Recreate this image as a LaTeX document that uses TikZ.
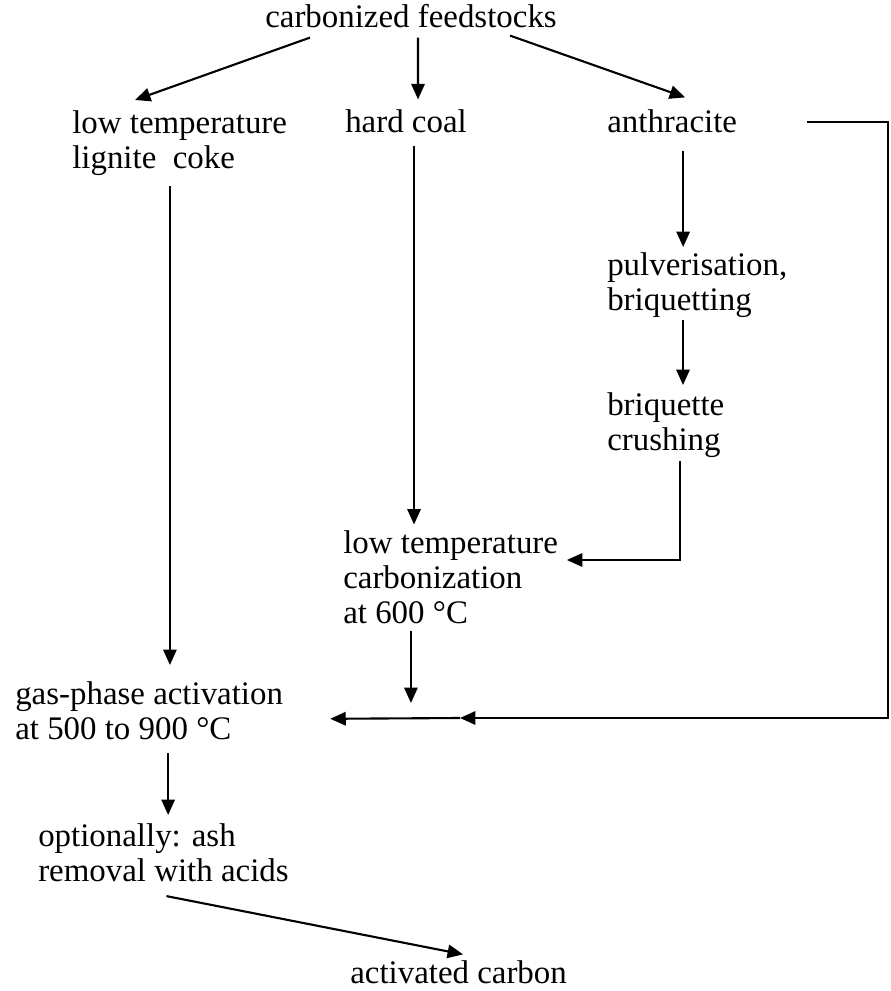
\documentclass[tikz,border=0pt]{standalone}
\usepackage{fontspec}
\setmainfont{Liberation Serif}
\usepackage{tikz}
\usetikzlibrary{arrows.meta,calc}

\begin{document}
\begin{tikzpicture}[x=0.025cm,y=-0.025cm,
		stoff/.style={inner sep=0pt,align=left,font=\fontsize{23.4}{24.8}\selectfont},
		pfeil/.style={line width=1.5pt,-{Triangle[length=11pt,width=9.5pt]}}]
		
		\useasboundingbox (0,0) rectangle (890,991);
		
		%feedstocks
		\node[stoff,anchor=base] (feed) at (411,28) {carbonized feedstocks};
		\node[stoff,anchor=north west] (lig) at (72,110.5) {low temperature\\lignite\ \ coke};
		\node[stoff,anchor=base west] (hard) at (345,133) {hard coal};
		\node[stoff,anchor=base west] (anth) at (607,133) {anthracite};
		
		%anthracite route
		\node[stoff,anchor=north west] (pulv) at (607,252.5) {pulverisation,\\briquetting};
		\node[stoff,anchor=north west] (briq) at (607,392.5) {briquette\\crushing};
		\node[stoff,anchor=north west] (ltc) at (343,530.5) {low temperature\\carbonization\\at 600 °C};
		
		%activation
		\node[stoff,anchor=north west] (gas) at (15,681.5) {gas-phase activation\\at 500 to 900 °C};
		\node[stoff,anchor=north west] (ash) at (38,823.5) {optionally: ash\\removal with acids};
		\node[stoff,anchor=base west] (act) at (350,983) {activated carbon};
		
		\coordinate (mitte) at (460,718);
		\coordinate (ecke) at (888,718);
		
		%arrows
		\draw[pfeil] ($(feed.south west)+(45,9)$) -- ($(lig.north west)+(63,-10.5)$);
		\draw[pfeil] ($(feed.south)+(7,9)$) -- ($(hard.north)+(12,-10.5)$);
		\draw[pfeil] ($(feed.south east)+(-47,7)$) -- ($(anth.north)+(13,-12.5)$);
		\draw[pfeil] ($(lig.south)+(-9.7,10)$) coordinate (l1) -- ($(l1 |- gas.north)+(0,-16.5)$);
		\draw[pfeil] ($(hard.south)+(8,12)$) coordinate (h1) -- ($(h1 |- ltc.north)+(0,-6)$);
		\draw[pfeil] ($(anth.south)+(11,17)$) coordinate (a1) -- ($(a1 |- pulv.north)+(0,-5.5)$);
		\draw[pfeil] ($(pulv.south)+(-14.3,2)$) coordinate (p1) -- ($(p1 |- briq.north)+(0,-7.5)$);
		\draw[pfeil] ($(briq.south)+(14.3,3)$) |- ($(ltc.north east)+(8.6,29.5)$);
		\draw[pfeil] ($(ltc.south)+(-39.7,7)$) coordinate (c1) -- ($(c1 |- mitte)+(0,-15)$);
		\draw[pfeil] ($(anth.east)+(70,0)$) -| (ecke) -- (mitte);
		\draw[pfeil] (mitte) -- ($(gas.east)+(47,8)$);
		\draw[pfeil] ($(gas.south)+(19,13)$) coordinate (g1) -- ($(g1 |- ash.north)+(0,-8.5)$);
		\draw[pfeil] ($(ash.south)+(3,14)$) -- ($(act.north)+(4.5,-5.5)$);
		
	\end{tikzpicture}
\end{document}
